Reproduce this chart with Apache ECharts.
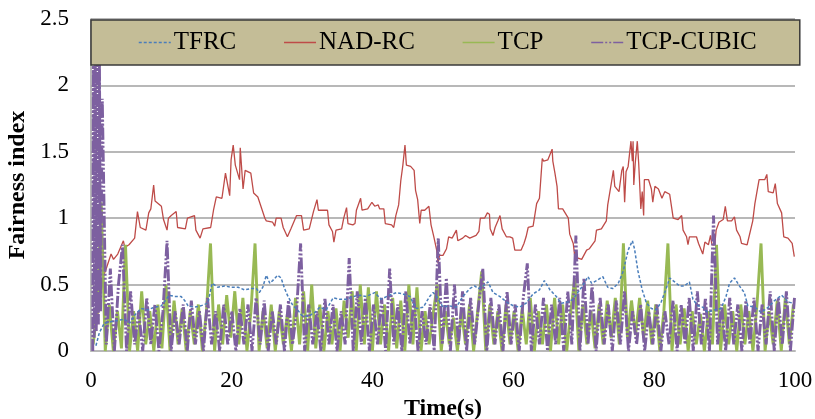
<!DOCTYPE html>
<html>
<head>
<meta charset="utf-8">
<script src="https://cdn.jsdelivr.net/npm/echarts@6/dist/echarts.min.js"></script>
<style>
  html, body { margin: 0; padding: 0; background: #fff; }
  #chart { width: 815px; height: 419px; }
</style>
</head>
<body>
<div id="chart"></div>
<script>
// values: [time (s), fairness index]
const tfrc = [
  [0.7,0.04],[1.2,0.14],[1.9,0.21],[2.8,0.22],[3.8,0.23],[4.7,0.24],[5.5,0.21],[6.2,0.27],[7.1,0.32],[8.1,0.31],
  [9.0,0.33],[10.0,0.34],[10.7,0.39],[11.1,0.42],[11.9,0.41],[12.8,0.41],[13.3,0.38],[13.8,0.34],[14.7,0.33],[15.6,0.34],
  [16.6,0.36],[17.2,0.51],[18.0,0.48],[19.0,0.49],[19.9,0.48],[20.9,0.48],[21.8,0.46],[22.7,0.47],[23.5,0.47],[23.9,0.44],
  [24.4,0.48],[24.9,0.57],[25.4,0.51],[25.8,0.53],[26.5,0.57],[27.0,0.55],[27.5,0.47],[27.9,0.42],[28.7,0.34],[29.2,0.32],
  [29.9,0.27],[30.8,0.26],[31.8,0.29],[32.5,0.33],[33.4,0.31],[34.4,0.40],[35.3,0.39],[36.3,0.39],[37.2,0.41],[38.2,0.42],
  [39.1,0.41],[40.3,0.44],[41.2,0.39],[42.4,0.42],[43.4,0.44],[44.3,0.43],[45.3,0.41],[46.2,0.32],[47.2,0.33],[48.1,0.41],
  [48.6,0.44],[49.1,0.41],[50.0,0.33],[50.9,0.34],[51.9,0.33],[52.8,0.41],[53.8,0.47],[54.5,0.49],[55.0,0.47],[55.7,0.49],
  [56.4,0.52],[57.1,0.44],[58.1,0.41],[59.0,0.37],[60.0,0.34],[60.9,0.33],[61.8,0.36],[62.8,0.43],[63.7,0.46],[64.4,0.53],
  [65.2,0.46],[66.1,0.41],[66.8,0.36],[67.8,0.37],[68.5,0.39],[69.0,0.43],[69.7,0.48],[70.6,0.56],[71.1,0.51],[71.8,0.53],
  [72.7,0.56],[73.4,0.48],[74.1,0.47],[74.9,0.51],[75.6,0.60],[76.3,0.76],[76.9,0.83],[77.2,0.77],[77.7,0.60],[78.3,0.46],
  [78.9,0.36],[79.6,0.32],[80.3,0.31],[81.0,0.37],[81.7,0.47],[82.2,0.55],[82.9,0.52],[83.6,0.49],[84.3,0.49],[85.0,0.52],
  [85.5,0.39],[86.2,0.34],[86.9,0.33],[87.6,0.29],[88.6,0.31],[89.5,0.32],[90.2,0.41],[90.7,0.51],[91.4,0.55],[92.1,0.49],
  [92.8,0.44],[93.3,0.34],[94.3,0.33],[95.2,0.29],[96.2,0.33],[97.1,0.38],[98.1,0.42],[99.0,0.37],[99.7,0.36]
];

const nadrc = [
  [0.8,0.21],[1.7,0.56],[2.1,0.61],[2.85,0.73],[3.2,0.69],[3.8,0.73],[4.6,0.83],[4.8,0.78],[5.4,0.80],[6.2,0.85],
  [6.6,1.05],[7.0,0.93],[7.8,0.91],[8.2,1.04],[8.5,1.07],[8.9,1.25],[9.1,1.13],[10.0,1.09],[10.3,0.99],[10.8,0.91],
  [11.0,1.0],[11.4,1.02],[12.1,1.05],[12.3,0.93],[13.4,0.92],[13.7,1.0],[14.7,1.02],[14.9,0.91],[15.5,0.85],[15.9,0.92],
  [17.0,0.93],[17.4,1.06],[17.8,1.16],[18.6,1.15],[19.1,1.34],[19.3,1.34],[19.7,1.17],[19.9,1.44],[20.2,1.55],[20.5,1.40],
  [21.1,1.29],[21.2,1.53],[21.6,1.22],[21.9,1.36],[22.7,1.34],[23.1,1.19],[23.7,1.16],[24.7,1.0],[24.9,0.98],[25.8,0.97],
  [26.1,0.94],[26.3,1.0],[27.0,1.0],[27.3,0.93],[27.9,0.86],[28.1,0.85],[28.4,0.92],[29.2,1.02],[29.9,1.02],[30.2,0.91],
  [31.0,0.92],[31.6,1.05],[32.1,1.14],[32.3,1.06],[33.2,1.06],[33.6,1.06],[33.8,0.95],[34.3,0.90],[34.5,0.82],[34.8,0.91],
  [35.6,0.92],[35.9,1.0],[36.3,1.08],[36.5,0.96],[37.2,0.95],[37.5,0.96],[37.7,1.06],[38.3,1.15],[38.5,1.06],[39.3,1.07],
  [39.9,1.12],[40.3,1.09],[40.8,1.1],[41.0,1.07],[41.6,1.07],[41.8,0.96],[42.7,0.95],[43.0,0.93],[43.3,1.02],[43.7,1.1],
  [44.0,1.28],[44.3,1.40],[44.6,1.55],[44.8,1.40],[45.4,1.39],[45.9,1.36],[46.1,1.21],[46.4,1.14],[46.7,0.96],[46.9,1.06],
  [47.4,1.06],[48.0,1.09],[48.3,0.95],[48.7,0.86],[49.1,0.76],[49.3,0.66],[49.5,0.72],[50.0,0.72],[50.5,0.77],[50.8,0.86],
  [51.3,0.85],[51.9,0.91],[52.1,0.83],[52.8,0.85],[53.2,0.87],[53.8,0.85],[54.7,0.87],[55.1,0.90],[55.3,1.0],[55.9,1.0],
  [56.3,1.04],[56.6,1.03],[56.7,0.92],[57.1,0.87],[57.4,0.93],[57.8,0.98],[58.1,1.02],[58.4,0.92],[59.0,0.86],[59.5,0.86],
  [59.9,0.85],[60.2,0.76],[61.1,0.76],[61.5,0.81],[61.8,0.86],[62.1,0.93],[62.8,0.94],[63.3,1.11],[63.7,1.15],[64.1,1.45],
  [64.3,1.43],[64.9,1.44],[65.5,1.52],[65.6,1.43],[65.9,1.34],[66.2,1.24],[66.4,1.07],[67.0,1.07],[67.8,1.0],[68.0,0.88],
  [68.5,0.81],[68.7,0.72],[68.9,0.69],[69.2,0.70],[69.7,0.69],[69.9,0.68],[70.4,0.76],[70.8,0.77],[71.6,0.83],[71.8,0.91],
  [72.5,0.92],[73.2,0.98],[73.4,1.10],[73.9,1.26],[74.2,1.36],[74.4,1.24],[75.0,1.20],[75.4,1.36],[75.6,1.39],[75.8,1.12],
  [76.0,1.35],[76.3,1.39],[76.5,1.40],[76.7,1.58],[76.9,1.43],[77.0,1.58],[77.1,1.25],[77.3,1.41],[77.6,1.58],[77.8,1.41],
  [78.1,1.07],[78.3,1.2],[78.5,1.02],[78.6,1.29],[79.2,1.29],[79.6,1.22],[79.8,1.12],[80.1,1.24],[80.6,1.22],[81.1,1.15],
  [81.5,1.20],[82.2,1.18],[82.7,1.0],[83.4,0.99],[83.9,1.02],[84.1,0.91],[84.6,0.86],[84.8,0.80],[85.0,0.86],[86.0,0.86],
  [86.3,0.81],[86.9,0.73],[87.2,0.82],[87.7,0.80],[88.0,0.87],[88.2,0.80],[88.6,0.80],[88.8,0.91],[89.2,0.97],[89.8,0.99],
  [90.1,1.09],[90.4,0.98],[91.0,0.98],[91.4,1.01],[91.7,0.91],[92.2,0.86],[92.4,0.81],[93.2,0.80],[94.0,0.98],[94.3,1.11],
  [94.5,1.17],[94.9,1.29],[95.7,1.29],[96.0,1.33],[96.2,1.20],[96.9,1.19],[97.2,1.26],[97.5,1.11],[98.1,1.04],[98.4,0.86],
  [99.0,0.85],[99.6,0.81],[99.9,0.71]
];

// TCP and TCP-CUBIC are sampled on a fixed step
const tcpStart = 0.3;
const tcpStep = 0.575;
const tcp = [
  0.05,0.3,1.12,0.0,0.35,0.0,0.3,0.02,0.8,0.0,
  0.3,0.0,0.45,0.05,0.3,0.0,0.35,0.02,0.5,0.0,
  0.38,0.05,0.32,0.0,0.3,0.05,0.35,0.0,0.3,0.81,
  0.0,0.35,0.05,0.42,0.1,0.45,0.05,0.4,0.0,0.3,
  0.81,0.0,0.3,0.02,0.35,0.0,0.3,0.05,0.28,0.0,
  0.4,0.05,0.45,0.0,0.5,0.02,0.35,0.0,0.3,0.05,
  0.32,0.0,0.38,0.1,0.45,0.0,0.5,0.05,0.48,0.0,
  0.45,0.05,0.35,0.0,0.4,0.02,0.38,0.0,0.5,0.05,
  0.48,0.0,0.3,0.05,0.28,0.5,0.0,0.3,0.05,0.25,
  0.0,0.3,0.05,0.35,0.0,0.3,0.6,0.0,0.35,0.05,
  0.3,0.0,0.35,0.05,0.3,0.0,0.32,0.05,0.4,0.0,
  0.3,0.05,0.35,0.0,0.4,0.05,0.35,0.0,0.3,0.55,
  0.0,0.35,0.05,0.3,0.02,0.35,0.05,0.38,0.1,0.4,
  0.05,0.81,0.1,0.38,0.12,0.4,0.1,0.38,0.05,0.35,
  0.0,0.3,0.81,0.0,0.35,0.05,0.32,0.0,0.3,0.05,
  0.28,0.0,0.3,0.05,0.8,0.0,0.35,0.05,0.3,0.0,
  0.35,0.05,0.3,0.0,0.35,0.81,0.0,0.3,0.05,0.38,
  0.0,0.4,0.05,0.35
];

// first second of TCP-CUBIC swings much higher
const cubicBurst = [
  [0.25,0],[0.35,2.3],[0.45,0.1],[0.6,2.25],[0.75,0.15],[0.9,2.3],[1.05,0.2],[1.2,2.2],[1.35,0.3]
];
const cubicStart = 1.6;
const cubicStep = 0.575;
const cubic = [
  1.9,0.05,0.62,0.0,0.5,0.8,0.0,0.45,0.05,0.3,
  0.0,0.4,0.05,0.35,0.0,0.3,0.83,0.0,0.3,0.05,
  0.35,0.0,0.38,0.05,0.3,0.0,0.4,0.05,0.3,0.0,
  0.35,0.05,0.3,0.0,0.32,0.05,0.35,0.0,0.4,0.05,
  0.38,0.0,0.3,0.05,0.35,0.0,0.38,0.05,0.3,0.81,
  0.0,0.35,0.05,0.3,0.0,0.4,0.05,0.35,0.0,0.3,
  0.05,0.7,0.0,0.45,0.05,0.4,0.0,0.35,0.05,0.4,
  0.0,0.62,0.05,0.35,0.0,0.45,0.05,0.4,0.0,0.3,
  0.05,0.35,0.0,0.85,0.05,0.55,0.0,0.5,0.05,0.45,
  0.0,0.4,0.05,0.35,0.62,0.0,0.4,0.05,0.35,0.0,
  0.45,0.05,0.35,0.0,0.4,0.66,0.0,0.35,0.05,0.4,
  0.0,0.35,0.05,0.4,0.0,0.45,0.05,0.87,0.0,0.55,
  0.05,0.5,0.0,0.4,0.05,0.35,0.0,0.38,0.05,0.45,
  0.0,0.3,0.05,0.35,0.0,0.3,0.05,0.35,0.0,0.3,
  0.05,0.38,0.0,0.35,0.05,0.4,0.0,0.45,0.05,0.4,
  0.0,1.02,0.05,0.35,0.0,0.4,0.05,0.35,0.0,0.38,
  0.05,0.4,0.0,0.35,0.05,0.45,0.0,0.4,0.05,0.45,
  0.0,0.4
];

const seriesNames = ['TFRC', 'NAD-RC', 'TCP', 'TCP-CUBIC'];

const tcpData = tcp.map((v, i) => [tcpStart + i * tcpStep, v]);
const cubicData = cubicBurst.concat(cubic.map((v, i) => [cubicStart + i * cubicStep, v]));

const font = "'Liberation Serif', 'Times New Roman', serif";

var chart = echarts.init(document.getElementById('chart'), null, {renderer: 'canvas'});

var option = {
  animation: false,
  backgroundColor: '#fff',
  textStyle: {fontFamily: font, color: '#000'},
  grid: {left: 91, right: 20, top: 19, bottom: 68, outerBoundsMode: 'none', containLabel: false},
  legend: {
    data: seriesNames,
    left: 91,
    top: 20,
    z: 20,
    padding: [10, 43, 10, 47],
    itemGap: 47,
    itemWidth: 32,
    itemHeight: 14,
    itemStyle: {opacity: 0},
    lineStyle: {width: 1.5},
    backgroundColor: '#C4BD97',
    borderColor: '#3a3a3a',
    borderWidth: 1.5,
    borderRadius: 0,
    selectedMode: false,
    textStyle: {fontFamily: font, fontSize: 25, color: '#000', padding: [0, 0, 0, -2]}
  },
  xAxis: {
    type: 'value',
    min: 0,
    max: 100,
    interval: 20,
    name: 'Time(s)',
    nameLocation: 'middle',
    nameGap: 41,
    nameTextStyle: {fontFamily: font, fontSize: 24, fontWeight: 'bold', color: '#000'},
    axisLine: {show: true, lineStyle: {color: '#b8b8b8', width: 2}},
    axisTick: {show: false},
    axisLabel: {fontFamily: font, fontSize: 23, color: '#000', margin: 18},
    splitLine: {show: false}
  },
  yAxis: {
    type: 'value',
    min: 0,
    max: 2.5,
    interval: 0.5,
    name: 'Fairness index',
    nameLocation: 'middle',
    nameGap: 52,
    nameTextStyle: {fontFamily: font, fontSize: 24, fontWeight: 'bold', color: '#000'},
    axisLine: {show: true, lineStyle: {color: '#a0a0a0', width: 1.5}},
    axisTick: {show: false},
    axisLabel: {fontFamily: font, fontSize: 23, color: '#000', margin: 22},
    splitLine: {show: true, lineStyle: {color: '#a0a0a0', width: 1.5}}
  },
  series: [
    {
      name: 'TFRC', type: 'line', data: tfrc, symbol: 'none', z: 5,
      lineStyle: {color: '#4A7EBB', width: 1.5, type: [3, 2]},
      itemStyle: {color: '#4A7EBB'}
    },
    {
      name: 'NAD-RC', type: 'line', data: nadrc, symbol: 'none', z: 2,
      lineStyle: {color: '#BE4B48', width: 1.3},
      itemStyle: {color: '#BE4B48'}
    },
    {
      name: 'TCP', type: 'line', data: tcpData, symbol: 'none', z: 3,
      lineStyle: {color: '#98B954', width: 2.9},
      itemStyle: {color: '#98B954'}
    },
    {
      name: 'TCP-CUBIC', type: 'line', data: cubicData, symbol: 'none', z: 4,
      lineStyle: {color: '#7D60A0', width: 2.9, type: [12, 2, 2, 2, 2, 2]},
      itemStyle: {color: '#7D60A0'}
    }
  ]
};

option && chart.setOption(option);
</script>
</body>
</html>
